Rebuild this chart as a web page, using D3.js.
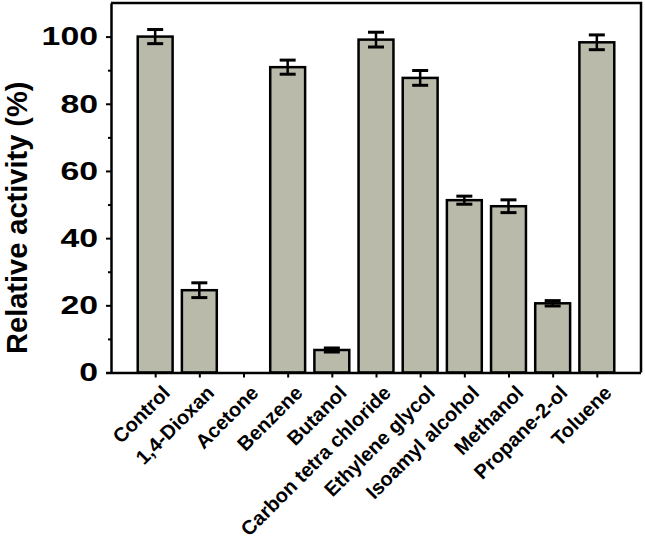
<!DOCTYPE html>
<html>
<head>
<meta charset="utf-8">
<script src="https://cdn.jsdelivr.net/npm/d3@7"></script>
<style>
  html, body { margin: 0; padding: 0; background: #fff; }
  svg { display: block; }
  text { font-family: "Liberation Sans", Arial, sans-serif; font-weight: bold; fill: #000; }
</style>
</head>
<body>
<svg id="chart" width="645" height="541"></svg>
<script>
const categories = ["Control", "1,4-Dioxan", "Acetone", "Benzene", "Butanol", "Carbon tetra chloride",
  "Ethylene glycol", "Isoamyl alcohol", "Methanol", "Propane-2-ol", "Toluene"];
const values = [100, 24.5, 0, 90.9, 6.7, 99.1, 87.7, 51.3, 49.5, 20.6, 98.3];
const errors = [2.1, 2.2, 0, 2.1, 0.6, 2.2, 2.2, 1.2, 1.9, 0.8, 2.2];
const yMajorTicks = [0, 20, 40, 60, 80, 100];
const yMinorTicks = [10, 30, 50, 70, 90];
const yLabel = "Relative activity (%)";

const svg = d3.select("#chart");
const mLeft = 111, mRight = 641, mTop = 3, mBottom = 372.5;

const x = d3.scalePoint().domain(categories).range([mLeft, mRight]).padding(1);
const y = d3.scaleLinear().domain([0, 110]).range([mBottom, mTop]);
const barW = x.step() * 0.79;

// bars
svg.append("g").selectAll("rect").data(categories).join("rect")
  .attr("x", d => x(d) - barW / 2)
  .attr("width", barW)
  .attr("y", (d, i) => y(values[i]))
  .attr("height", (d, i) => y(0) - y(values[i]))
  .attr("fill", "#babaab")
  .attr("stroke", "#000")
  .attr("stroke-width", 2.5)
  .style("display", (d, i) => values[i] > 0 ? null : "none");

// error bars
const eb = svg.append("g").selectAll("g").data(categories.filter((d, i) => errors[i] > 0)).join("g");
eb.append("line")
  .attr("x1", d => x(d)).attr("x2", d => x(d))
  .attr("y1", d => y(values[categories.indexOf(d)] + errors[categories.indexOf(d)]))
  .attr("y2", d => y(values[categories.indexOf(d)] - errors[categories.indexOf(d)]))
  .attr("stroke", "#000").attr("stroke-width", 2.5);
[1, -1].forEach(s => {
  eb.append("line")
    .attr("x1", d => x(d) - 8).attr("x2", d => x(d) + 8)
    .attr("y1", d => y(values[categories.indexOf(d)] + s * errors[categories.indexOf(d)]))
    .attr("y2", d => y(values[categories.indexOf(d)] + s * errors[categories.indexOf(d)]))
    .attr("stroke", "#000").attr("stroke-width", 3);
});

// frame (top/right)
svg.append("path")
  .attr("d", `M${mLeft},${mTop}H${mRight}V${mBottom}`)
  .attr("fill", "none").attr("stroke", "#000").attr("stroke-width", 2.5);

// y axis minor ticks
const yMinor = svg.append("g").attr("transform", `translate(${mLeft},0)`)
  .call(d3.axisLeft(y).tickValues(yMinorTicks).tickSize(3).tickFormat(""));
yMinor.select(".domain").remove();
yMinor.selectAll("line").attr("stroke", "#000").attr("stroke-width", 2);

// y axis
const yAx = svg.append("g").attr("transform", `translate(${mLeft},0)`)
  .call(d3.axisLeft(y).tickValues(yMajorTicks).tickSize(5).tickSizeOuter(0));
yAx.select(".domain").attr("stroke", "#000").attr("stroke-width", 2.5);
yAx.selectAll(".tick line").attr("stroke", "#000").attr("stroke-width", 2);
yAx.selectAll(".tick text")
  .attr("x", 0)
  .attr("transform", "translate(-13,0) scale(1.3,1)")
  .style("font-size", "26px")
  .style("font-family", "'Liberation Sans', Arial, sans-serif")
  .style("font-weight", "bold");

// x axis
const xAx = svg.append("g").attr("transform", `translate(0,${mBottom})`)
  .call(d3.axisBottom(x).tickSize(5).tickSizeOuter(0));
xAx.select(".domain").attr("stroke", "#000").attr("stroke-width", 2.5)
  .attr("d", `M${mLeft - 5},0.5H${mRight}`);
xAx.selectAll(".tick line").attr("stroke", "#000").attr("stroke-width", 2);
xAx.selectAll(".tick text")
  .attr("x", 0).attr("y", 0).attr("dy", "0.75em")
  .attr("text-anchor", "end")
  .attr("transform", "translate(5,11) rotate(-45)")
  .style("font-size", "20px")
  .style("font-family", "'Liberation Sans', Arial, sans-serif")
  .style("font-weight", "bold");

// y label
svg.append("text")
  .attr("transform", `translate(27,${(mTop + mBottom) / 2 + 30}) rotate(-90)`)
  .attr("text-anchor", "middle")
  .style("font-size", "29px")
  .text(yLabel);
</script>
</body>
</html>
